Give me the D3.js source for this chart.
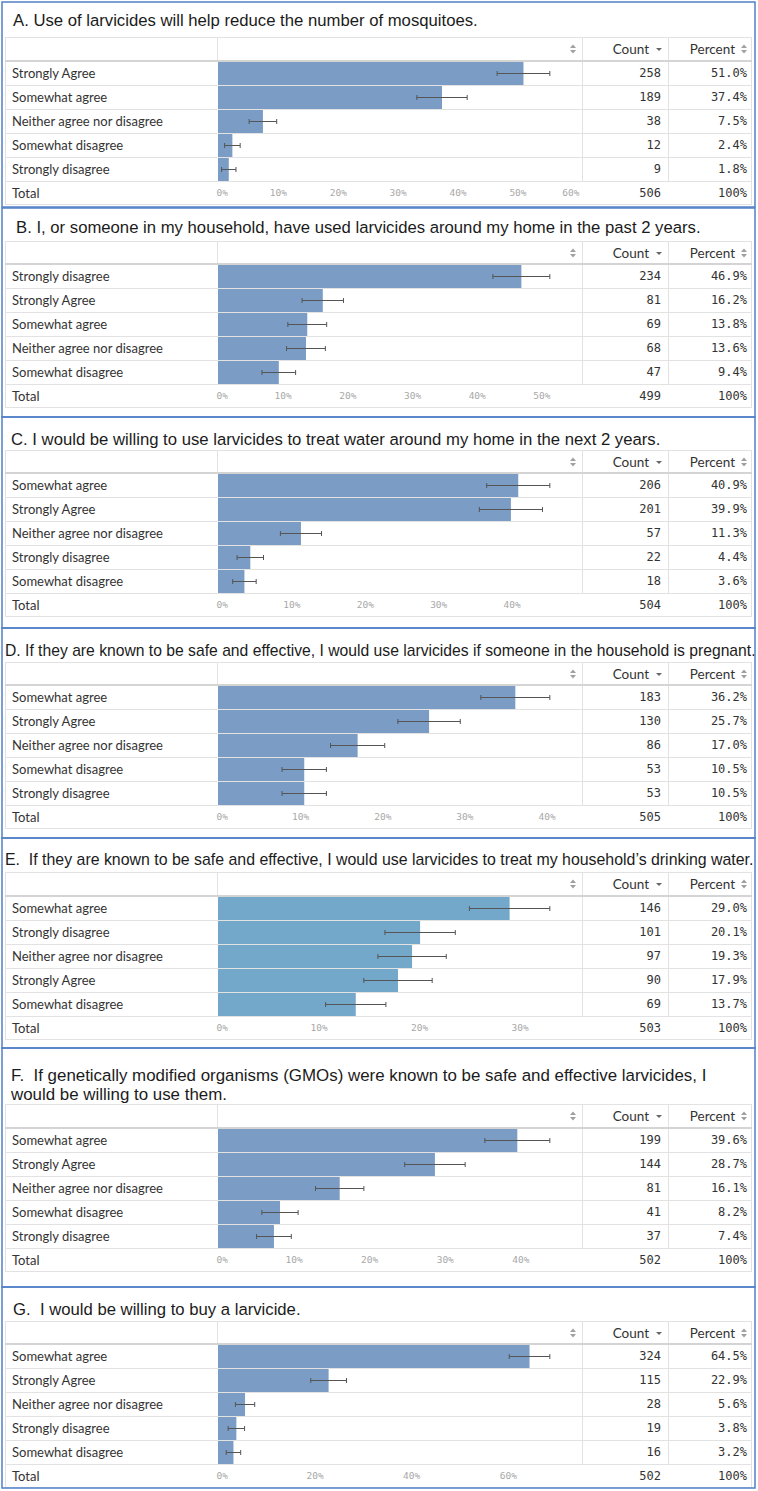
<!DOCTYPE html>
<html><head><meta charset="utf-8">
<script src="https://cdn.jsdelivr.net/npm/d3@7/dist/d3.min.js"></script>
<style>body{margin:0;background:#fff}svg{display:block}</style>
</head><body><svg id="c" width="758" height="1491"></svg>
<script>
// ---------------- DATA ----------------
const titles = [
  ["A. Use of larvicides will help reduce the number of mosquitoes."],
  ["B. I, or someone in my household, have used larvicides around my home in the past 2 years."],
  ["C. I would be willing to use larvicides to treat water around my home in the next 2 years."],
  ["D. If they are known to be safe and effective, I would use larvicides if someone in the household is pregnant."],
  ["E.  If they are known to be safe and effective, I would use larvicides to treat my household\u2019s drinking water."],
  ["F.  If genetically modified organisms (GMOs) were known to be safe and effective larvicides, I", "would be willing to use them."],
  ["G.  I would be willing to buy a larvicide."]
];
const categories = [
  ["Strongly Agree", "Somewhat agree", "Neither agree nor disagree", "Somewhat disagree", "Strongly disagree"],
  ["Strongly disagree", "Strongly Agree", "Somewhat agree", "Neither agree nor disagree", "Somewhat disagree"],
  ["Somewhat agree", "Strongly Agree", "Neither agree nor disagree", "Strongly disagree", "Somewhat disagree"],
  ["Somewhat agree", "Strongly Agree", "Neither agree nor disagree", "Somewhat disagree", "Strongly disagree"],
  ["Somewhat agree", "Strongly disagree", "Neither agree nor disagree", "Strongly Agree", "Somewhat disagree"],
  ["Somewhat agree", "Strongly Agree", "Neither agree nor disagree", "Somewhat disagree", "Strongly disagree"],
  ["Somewhat agree", "Strongly Agree", "Neither agree nor disagree", "Strongly disagree", "Somewhat disagree"]
];
const counts = [
  [258, 189, 38, 12, 9],
  [234, 81, 69, 68, 47],
  [206, 201, 57, 22, 18],
  [183, 130, 86, 53, 53],
  [146, 101, 97, 90, 69],
  [199, 144, 81, 41, 37],
  [324, 115, 28, 19, 16]
];
const percents = [
  [51.0, 37.4, 7.5, 2.4, 1.8],
  [46.9, 16.2, 13.8, 13.6, 9.4],
  [40.9, 39.9, 11.3, 4.4, 3.6],
  [36.2, 25.7, 17.0, 10.5, 10.5],
  [29.0, 20.1, 19.3, 17.9, 13.7],
  [39.6, 28.7, 16.1, 8.2, 7.4],
  [64.5, 22.9, 5.6, 3.8, 3.2]
];
// error bar half-widths (percentage points)
const errors = [
  [4.4, 4.2, 2.3, 1.3, 1.2],
  [4.4, 3.2, 3.0, 3.0, 2.6],
  [4.3, 4.3, 2.8, 1.8, 1.6],
  [4.2, 3.8, 3.3, 2.7, 2.7],
  [4.0, 3.5, 3.4, 3.4, 3.0],
  [4.3, 4.0, 3.2, 2.4, 2.3],
  [4.2, 3.7, 2.0, 1.7, 1.5]
];
const totals = [506, 499, 504, 505, 503, 502, 502];
const totalPct = ["100%", "100%", "100%", "100%", "100%", "100%", "100%"];
const tickValues = [
  [0, 10, 20, 30, 40, 50, 60],
  [0, 10, 20, 30, 40, 50],
  [0, 10, 20, 30, 40],
  [0, 10, 20, 30, 40],
  [0, 10, 20, 30],
  [0, 10, 20, 30, 40],
  [0, 20, 40, 60]
];
const barColors = ["#7a9cc5", "#7a9cc5", "#7a9cc5", "#7a9cc5", "#73a8ca", "#7a9cc5", "#7a9cc5"];

// ---------------- LAYOUT ----------------
const layout = [
  {top: 2,    bottom: 207,  titleX: 13, titleY: [20],         titleSize: 16.7, headTop: 37,   rowsTop: 61},
  {top: 208,  bottom: 417,  titleX: 16, titleY: [227],        titleSize: 16.7, headTop: 241,  rowsTop: 264},
  {top: 417,  bottom: 628,  titleX: 11, titleY: [439],        titleSize: 16.7, headTop: 450,  rowsTop: 473},
  {top: 628,  bottom: 838,  titleX: 5,  titleY: [650],        titleSize: 15.7, headTop: 662,  rowsTop: 685},
  {top: 838,  bottom: 1048, titleX: 5,  titleY: [859],        titleSize: 15.9, headTop: 872,  rowsTop: 896},
  {top: 1048, bottom: 1287, titleX: 11, titleY: [1075, 1094], titleSize: 16.9, headTop: 1104, rowsTop: 1128},
  {top: 1287, bottom: 1488, titleX: 13, titleY: [1309],       titleSize: 16.7, headTop: 1321, rowsTop: 1344}
];
const G = {left: 5, right: 752, labelX: 12, x0: 218, x1: 583, colBar: 217, colCount: 582, colPct: 668,
           countR: 661, pctR: 747, rowH: 24};
const sans = "Lato, 'Noto Sans', sans-serif";
const mono = "'DejaVu Sans Mono', monospace";
const grid = "#e2e2e2";

const svg = d3.select("#c");

function sortIcon(g, x, cy) {
  g.append("path").attr("d", `M${x-3},${cy-1} L${x+3},${cy-1} L${x},${cy-4.5} Z`).attr("fill", "#a0a0a0");
  g.append("path").attr("d", `M${x-3},${cy+1} L${x+3},${cy+1} L${x},${cy+4.5} Z`).attr("fill", "#a0a0a0");
}

layout.forEach((lay, i) => {
  const g = svg.append("g");
  const cats = categories[i];
  const data = cats.map((c, k) => ({c, n: counts[i][k], p: percents[i][k], e: errors[i][k]}));
  const x = d3.scaleLinear()
    .domain([0, d3.max(data, d => d.p + d.e) * 1.1])
    .range([G.x0, G.x1]);
  const y = d3.scaleBand().domain(cats).range([lay.rowsTop, lay.rowsTop + G.rowH * cats.length]);
  const rowsBottom = lay.rowsTop + G.rowH * cats.length;
  const totalBottom = rowsBottom + 23;

  // title
  const t = g.append("text").attr("font-family", "'Liberation Sans', Arial, sans-serif")
    .attr("font-size", lay.titleSize).attr("fill", "#1b1b1b").style("white-space", "pre");
  titles[i].forEach((line, k) => {
    t.append("tspan").attr("x", lay.titleX).attr("y", lay.titleY[k]).attr("dy", "0.36em").text(line);
  });

  // grid lines
  const hl = (yy, c, w) => g.append("line").attr("x1", G.left).attr("x2", G.right)
    .attr("y1", yy).attr("y2", yy).attr("stroke", c).attr("stroke-width", w);
  const vl = (xx, y1, y2) => g.append("line").attr("x1", xx).attr("x2", xx)
    .attr("y1", y1).attr("y2", y2).attr("stroke", grid).attr("stroke-width", 1);
  hl(lay.headTop + 0.5, grid, 1);
  [G.left + 0.5, G.right - 0.5].forEach(xx => vl(xx, lay.headTop, totalBottom));
  [G.colBar + 0.5].forEach(xx => vl(xx, lay.headTop, lay.rowsTop));
  [G.colCount + 0.5, G.colPct + 0.5].forEach(xx => vl(xx, lay.headTop, rowsBottom));
  cats.forEach(c => hl(y(c) + y.bandwidth() + 0.5, grid, 1));
  hl(totalBottom + 0.5, grid, 1);

  // bars
  g.selectAll("rect.bar").data(data).join("rect").attr("class", "bar")
    .attr("x", x(0)).attr("y", d => y(d.c) + 1)
    .attr("width", d => x(d.p) - x(0)).attr("height", y.bandwidth() - 1)
    .attr("fill", barColors[i]);
  hl(lay.rowsTop, "#d4d4d4", 2);

  // error bars
  const eb = g.selectAll("g.err").data(data).join("g").attr("class", "err")
    .attr("stroke", "#555").attr("stroke-width", 1);
  const cy = d => y(d.c) + y.bandwidth() / 2 + 0.5;
  eb.append("line").attr("x1", d => x(d.p - d.e)).attr("x2", d => x(d.p + d.e)).attr("y1", cy).attr("y2", cy);
  eb.append("line").attr("x1", d => x(d.p - d.e)).attr("x2", d => x(d.p - d.e)).attr("y1", d => cy(d) - 2.5).attr("y2", d => cy(d) + 2.5);
  eb.append("line").attr("x1", d => x(d.p + d.e)).attr("x2", d => x(d.p + d.e)).attr("y1", d => cy(d) - 2.5).attr("y2", d => cy(d) + 2.5);

  // row labels & numbers
  g.selectAll("text.lab").data(data).join("text").attr("class", "lab")
    .attr("x", G.labelX).attr("y", d => y(d.c) + y.bandwidth() / 2).attr("dy", "0.35em")
    .attr("font-family", sans).attr("font-size", 13).attr("fill", "#333").text(d => d.c);
  g.selectAll("text.cnt").data(data).join("text").attr("class", "cnt")
    .attr("x", G.countR).attr("y", d => y(d.c) + y.bandwidth() / 2).attr("dy", "0.35em")
    .attr("text-anchor", "end").attr("font-family", mono).attr("font-size", 12).attr("fill", "#333").text(d => d.n);
  g.selectAll("text.pct").data(data).join("text").attr("class", "pct")
    .attr("x", G.pctR).attr("y", d => y(d.c) + y.bandwidth() / 2).attr("dy", "0.35em")
    .attr("text-anchor", "end").attr("font-family", mono).attr("font-size", 12).attr("fill", "#333").text(d => d.p.toFixed(1) + "%");

  // header
  const hy = lay.headTop + 12;
  sortIcon(g, 573, hy);
  g.append("text").attr("x", 649).attr("y", hy).attr("dy", "0.35em").attr("text-anchor", "end")
    .attr("font-family", sans).attr("font-size", 13.5).attr("fill", "#333").text("Count");
  g.append("path").attr("d", `M${656},${hy-1} L${662},${hy-1} L${659},${hy+2} Z`).attr("fill", "#666");
  g.append("text").attr("x", 735).attr("y", hy).attr("dy", "0.35em").attr("text-anchor", "end")
    .attr("font-family", sans).attr("font-size", 13.5).attr("fill", "#333").text("Percent");
  sortIcon(g, 744, hy);

  // total row
  const ty = rowsBottom + 12;
  g.append("text").attr("x", G.labelX).attr("y", ty).attr("dy", "0.35em")
    .attr("font-family", sans).attr("font-size", 13).attr("fill", "#333").text("Total");
  g.append("text").attr("x", G.countR).attr("y", ty).attr("dy", "0.35em").attr("text-anchor", "end")
    .attr("font-family", mono).attr("font-size", 12).attr("fill", "#333").text(totals[i]);
  g.append("text").attr("x", G.pctR).attr("y", ty).attr("dy", "0.35em").attr("text-anchor", "end")
    .attr("font-family", mono).attr("font-size", 12).attr("fill", "#333").text(totalPct[i]);

  // axis
  const ax = g.append("g").attr("transform", `translate(0,${ty})`)
    .call(d3.axisBottom(x).tickValues(tickValues[i]).tickSize(0).tickFormat(d => d + "%"));
  ax.select(".domain").remove();
  ax.selectAll("text").attr("y", 0).attr("dy", "0.35em")
    .attr("font-family", mono).attr("font-size", 9.5).attr("fill", "#a8a8a8");
  ax.selectAll(".tick").each(function(d) {
    const txt = d3.select(this).select("text");
    const w = txt.node().getComputedTextLength();
    const cx = x(d);
    let shift = 0;
    if (cx - w / 2 < 216) shift = 216 - (cx - w / 2);
    if (cx + w / 2 > 579) shift = 579 - (cx + w / 2);
    txt.attr("x", shift);
  });

  // blue frame
  g.append("rect").attr("x", 2).attr("y", lay.top).attr("width", 753).attr("height", lay.bottom - lay.top)
    .attr("fill", "none").attr("stroke", "#5080c8").attr("stroke-width", 1.5);
});
</script></body></html>
